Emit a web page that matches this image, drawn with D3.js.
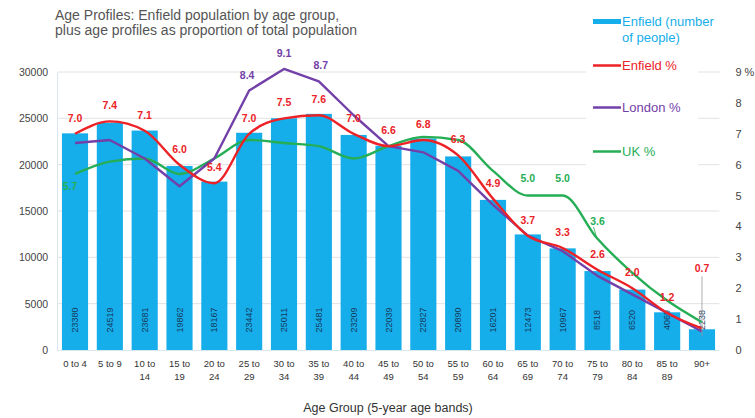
<!DOCTYPE html>
<html>
<head>
<meta charset="utf-8">
<script src="https://cdn.jsdelivr.net/npm/d3@7"></script>
<style>
  body { margin: 0; background: #fff; }
  text { font-family: 'Liberation Sans', Arial, sans-serif; }
</style>
</head>
<body>
<script>
const ageGroups = ['0 to 4', '5 to 9', '10 to 14', '15 to 19', '20 to 24', '25 to 29', '30 to 34',
  '35 to 39', '40 to 44', '45 to 49', '50 to 54', '55 to 59', '60 to 64', '65 to 69', '70 to 74',
  '75 to 79', '80 to 84', '85 to 89', '90+']
const enfieldPeople = [23380, 24519, 23681, 19862, 18167, 23442, 25011, 25481, 23209, 22039,
  22827, 20890, 16201, 12473, 10967, 8518, 6520, 4069, 2238]
const enfieldPct = [7.0, 7.4, 7.1, 6.0, 5.4, 7.0, 7.5, 7.6, 7.0, 6.6, 6.8, 6.3, 4.9, 3.7, 3.3, 2.6, 2.0, 1.2, 0.7]
const londonPct = [6.7, 6.8, 6.2, 5.3, 6.2, 8.4, 9.1, 8.7, 7.6, 6.6, 6.4, 5.8, 4.7, 3.7, 3.2, 2.4, 1.8, 1.2, 0.6]
const ukPct = [5.7, 6.1, 6.2, 5.7, 6.2, 6.8, 6.7, 6.6, 6.2, 6.6, 6.9, 6.8, 5.8, 5.0, 5.0, 3.6, 2.5, 1.6, 0.9]
const leftTicks = [0, 5000, 10000, 15000, 20000, 25000, 30000]
const rightTicks = [0, 1, 2, 3, 4, 5, 6, 7, 8, 9]
const londonLabelled = ['25 to 29', '30 to 34', '35 to 39']
const ukLabelled = ['0 to 4', '65 to 69', '70 to 74', '75 to 79']

let size = { width: 755, height: 418 }
let plot = { left: 57.6, right: 719.4, top: 72, bottom: 350 }

let colors = {
  bar: '#16aeea',
  enfield: '#ec2227',
  london: '#7240a8',
  uk: '#25ae55'
}

let svg = d3.select('body')
  .append('svg')
  .attr('width', size.width)
  .attr('height', size.height)

let x = d3.scaleBand()
  .domain(ageGroups)
  .range([plot.left, plot.right])
  .paddingInner(0.25)
  .paddingOuter(0.125)

let yLeft = d3.scaleLinear()
  .domain([0, 30000])
  .range([plot.bottom, plot.top])

let yRight = d3.scaleLinear()
  .domain([0, 9])
  .range([plot.bottom, plot.top])

let cx = d => x(d) + x.bandwidth() / 2

// grid
svg.append('g')
  .selectAll('line')
  .data(leftTicks.slice(1))
  .enter()
  .append('line')
  .attr('x1', plot.left)
  .attr('x2', plot.right)
  .attr('y1', d => yLeft(d))
  .attr('y2', d => yLeft(d))
  .attr('stroke', '#e2e2e2')
  .attr('stroke-width', 1)

// left axis
let leftAxis = svg.append('g')
  .attr('transform', 'translate(' + (plot.left - 0.5) + ',0)')
  .call(d3.axisLeft(yLeft).tickValues(leftTicks).tickSize(0).tickPadding(9).tickFormat(d3.format('d')))
leftAxis.select('.domain').attr('stroke', '#d6e6ef')
leftAxis.selectAll('text').attr('fill', '#444').style('font-size', '10.5px')

// right axis
let rightAxis = svg.append('g')
  .attr('transform', 'translate(' + (plot.right + 12) + ',0)')
  .call(d3.axisRight(yRight).tickValues(rightTicks).tickSize(0).tickPadding(4)
    .tickFormat(d => d === 9 ? '9 %' : d))
rightAxis.select('.domain').remove()
rightAxis.selectAll('text').attr('fill', '#444').style('font-size', '11px')

// bars
svg.append('g')
  .selectAll('rect')
  .data(ageGroups)
  .enter()
  .append('rect')
  .attr('x', d => x(d))
  .attr('width', x.bandwidth())
  .attr('y', (d, i) => yLeft(enfieldPeople[i]))
  .attr('height', (d, i) => plot.bottom - yLeft(enfieldPeople[i]))
  .attr('fill', colors.bar)

svg.append('line')
  .attr('x1', plot.left)
  .attr('x2', plot.right)
  .attr('y1', plot.bottom + 0.5)
  .attr('y2', plot.bottom + 0.5)
  .attr('stroke', '#d8e8f0')

// bar values
svg.append('g')
  .selectAll('text')
  .data(ageGroups)
  .enter()
  .append('text')
  .attr('transform', d => 'translate(' + (cx(d) + 3) + ',' + (plot.bottom - 30) + ')rotate(-90)')
  .attr('text-anchor', 'middle')
  .style('font-size', '9px')
  .attr('fill', '#173a5e')
  .text((d, i) => enfieldPeople[i])

// x labels
let xl = svg.append('g')
  .selectAll('text')
  .data(ageGroups)
  .enter()
  .append('text')
  .attr('x', d => cx(d))
  .attr('y', plot.bottom + 17)
  .attr('text-anchor', 'middle')
  .style('font-size', '9.5px')
  .attr('fill', '#333')
xl.each(function(d) {
  let t = d3.select(this)
  let parts = d.split(' to ')
  if (parts.length === 1 || d === '0 to 4' || d === '5 to 9') {
    t.append('tspan').attr('x', cx(d)).text(d)
  } else {
    t.append('tspan').attr('x', cx(d)).text(parts[0] + ' to')
    t.append('tspan').attr('x', cx(d)).attr('dy', 13).text(parts[1])
  }
})

svg.append('text')
  .attr('x', 388)
  .attr('y', 412)
  .attr('text-anchor', 'middle')
  .style('font-size', '12.5px')
  .attr('fill', '#333')
  .text('Age Group (5-year age bands)')

// lines
function drawLine(values, color, curve) {
  let line = d3.line()
    .x((d, i) => cx(ageGroups[i]))
    .y(d => yRight(d))
    .curve(curve)
  svg.append('path')
    .datum(values)
    .attr('d', line)
    .attr('fill', 'none')
    .attr('stroke', color)
    .attr('stroke-width', 2.4)
    .attr('stroke-linejoin', 'round')
}
drawLine(ukPct, colors.uk, d3.curveMonotoneX)
drawLine(londonPct, colors.london, d3.curveLinear)
drawLine(enfieldPct, colors.enfield, d3.curveMonotoneX)

// leader lines
let last = ageGroups[ageGroups.length - 1]
svg.append('line')
  .attr('x1', cx(last)).attr('x2', cx(last))
  .attr('y1', yRight(enfieldPct[18]) - 52).attr('y2', yRight(enfieldPct[18]) + 8)
  .attr('stroke', '#999').attr('stroke-width', 0.8)
svg.append('line')
  .attr('x1', cx('75 to 79') - 4).attr('x2', cx('75 to 79') - 1)
  .attr('y1', yRight(ukPct[15]) - 12).attr('y2', yRight(ukPct[15]) - 2)
  .attr('stroke', colors.uk).attr('stroke-width', 0.8)

// data labels
svg.append('g')
  .selectAll('text')
  .data(ageGroups)
  .enter()
  .append('text')
  .attr('x', d => cx(d))
  .attr('y', (d, i) => d === last ? yRight(enfieldPct[i]) - 56 : yRight(enfieldPct[i]) - 12)
  .attr('text-anchor', 'middle')
  .style('font-size', '10.5px')
  .style('font-weight', 'bold')
  .attr('fill', colors.enfield)
  .text((d, i) => enfieldPct[i].toFixed(1))

svg.append('g')
  .selectAll('text')
  .data(londonLabelled)
  .enter()
  .append('text')
  .attr('x', d => cx(d) - (d === '30 to 34' ? 0 : (d === '25 to 29' ? 2 : -2)))
  .attr('y', d => yRight(londonPct[ageGroups.indexOf(d)]) - 12)
  .attr('text-anchor', 'middle')
  .style('font-size', '10.5px')
  .style('font-weight', 'bold')
  .attr('fill', colors.london)
  .text(d => londonPct[ageGroups.indexOf(d)].toFixed(1))

svg.append('g')
  .selectAll('text')
  .data(ukLabelled)
  .enter()
  .append('text')
  .attr('x', d => cx(d) - (d === '0 to 4' ? 5 : 0))
  .attr('y', d => d === '0 to 4'
    ? yRight(ukPct[0]) + 16
    : yRight(ukPct[ageGroups.indexOf(d)]) - 14)
  .attr('text-anchor', 'middle')
  .style('font-size', '10.5px')
  .style('font-weight', 'bold')
  .attr('fill', colors.uk)
  .text(d => ukPct[ageGroups.indexOf(d)].toFixed(1))

// legend
let legend = svg.append('g')
legend.append('rect')
  .attr('x', 586).attr('y', 4).attr('width', 112).attr('height', 170)
  .attr('fill', '#fff')
let items = [
  { name: ['Enfield (number', 'of people)'], color: colors.bar, y: 26, w: 5 },
  { name: ['Enfield %'], color: colors.enfield, y: 70, w: 2.5 },
  { name: ['London %'], color: colors.london, y: 112, w: 2.5 },
  { name: ['UK %'], color: colors.uk, y: 156, w: 2.5 }
]
items.forEach(it => {
  legend.append('line')
    .attr('x1', 593).attr('x2', 621)
    .attr('y1', it.y - 4.5).attr('y2', it.y - 4.5)
    .attr('stroke', it.color).attr('stroke-width', it.w)
  let t = legend.append('text')
    .attr('x', 622).attr('y', it.y)
    .style('font-size', '13px')
    .attr('fill', it.color)
  it.name.forEach((n, k) => {
    t.append('tspan').attr('x', 622).attr('dy', k ? 16 : 0).text(n)
  })
})

// title
svg.append('text')
  .attr('x', 55)
  .attr('y', 20)
  .style('font-size', '14px')
  .attr('fill', '#555')
  .text('Age Profiles:  Enfield population by age group,')
svg.append('text')
  .attr('x', 55)
  .attr('y', 35)
  .style('font-size', '14px')
  .attr('fill', '#555')
  .text('plus age profiles as proportion of total population')
</script>
</body>
</html>
